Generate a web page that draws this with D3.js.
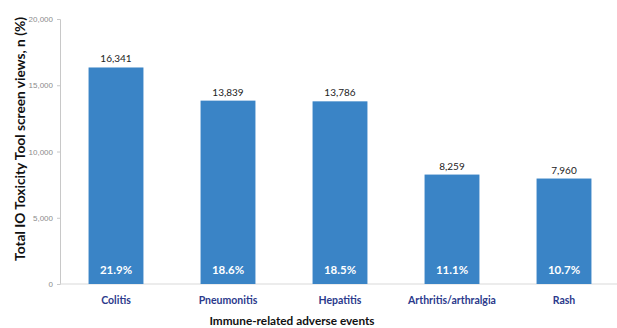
<!DOCTYPE html>
<html>
<head>
<meta charset="utf-8">
<script src="https://cdn.jsdelivr.net/npm/d3@7"></script>
<style>
  body { margin: 0; background: #fff; }
  svg { display: block; font-family: Lato, "Open Sans", sans-serif; }
</style>
</head>
<body>
<svg id="chart" width="617" height="328"></svg>
<script>
// Screen views of the IO Toxicity Tool, by immune-related adverse event
const categories = ["Colitis", "Pneumonitis", "Hepatitis", "Arthritis/arthralgia", "Rash"];
const views = [16341, 13839, 13786, 8259, 7960];
const shares = ["21.9%", "18.6%", "18.5%", "11.1%", "10.7%"];
const yTicks = [0, 5000, 10000, 15000, 20000];

const svg = d3.select("#chart");
const W = 617;
const plotLeft = 60, plotRight = 620, plotTop = 19, plotBottom = 284;

const x = d3.scaleBand()
  .domain(categories)
  .range([plotLeft, plotRight])
  .paddingInner(0.51)
  .paddingOuter(0.255);

const y = d3.scaleLinear()
  .domain([0, 20000])
  .range([plotBottom, plotTop]);

const fmt = d3.format(",");

// y axis
const yAxis = svg.append("g")
  .attr("transform", `translate(${plotLeft},0)`)
  .call(d3.axisLeft(y).tickValues(yTicks).tickFormat(fmt).tickSize(3).tickPadding(4));
yAxis.select(".domain").attr("stroke", "#c8c8c8");
yAxis.selectAll(".tick line").attr("stroke", "#c8c8c8");
yAxis.selectAll(".tick text").attr("fill", "#8c8c8c").attr("font-size", 8);

// x baseline
svg.append("line")
  .attr("x1", plotLeft).attr("x2", W)
  .attr("y1", y(0)).attr("y2", y(0))
  .attr("stroke", "#d9d9d9");

// bars
svg.append("g").selectAll("rect")
  .data(categories)
  .join("rect")
  .attr("x", d => x(d))
  .attr("width", x.bandwidth())
  .attr("y", (d, i) => y(views[i]))
  .attr("height", (d, i) => y(0) - y(views[i]))
  .attr("fill", "#3a84c6");

// value labels above bars
svg.append("g").selectAll("text")
  .data(categories)
  .join("text")
  .attr("x", d => x(d) + x.bandwidth() / 2)
  .attr("y", (d, i) => y(views[i]) - 5)
  .attr("text-anchor", "middle")
  .attr("font-size", 10)
  .attr("fill", "#222")
  .text((d, i) => fmt(views[i]));

// percentage labels inside bars
svg.append("g").selectAll("text")
  .data(categories)
  .join("text")
  .attr("x", d => x(d) + x.bandwidth() / 2)
  .attr("y", 273.5)
  .attr("text-anchor", "middle")
  .attr("font-size", 11.5)
  .attr("font-weight", "bold")
  .attr("fill", "#fff")
  .text((d, i) => shares[i]);

// category labels
svg.append("g").selectAll("text")
  .data(categories)
  .join("text")
  .attr("x", d => x(d) + x.bandwidth() / 2)
  .attr("y", 304)
  .attr("text-anchor", "middle")
  .attr("font-size", 10.5)
  .attr("font-weight", "bold")
  .attr("fill", "#2b3a8c")
  .text(d => d);

// axis titles
svg.append("text")
  .attr("x", 292)
  .attr("y", 325)
  .attr("text-anchor", "middle")
  .attr("font-size", 11.8)
  .attr("font-weight", "bold")
  .attr("fill", "#111")
  .text("Immune-related adverse events");

svg.append("text")
  .attr("transform", "translate(25,139) rotate(-90)")
  .attr("text-anchor", "middle")
  .attr("font-size", 13.7)
  .attr("font-weight", "bold")
  .attr("fill", "#111")
  .text("Total IO Toxicity Tool screen views, n (%)");
</script>
</body>
</html>
